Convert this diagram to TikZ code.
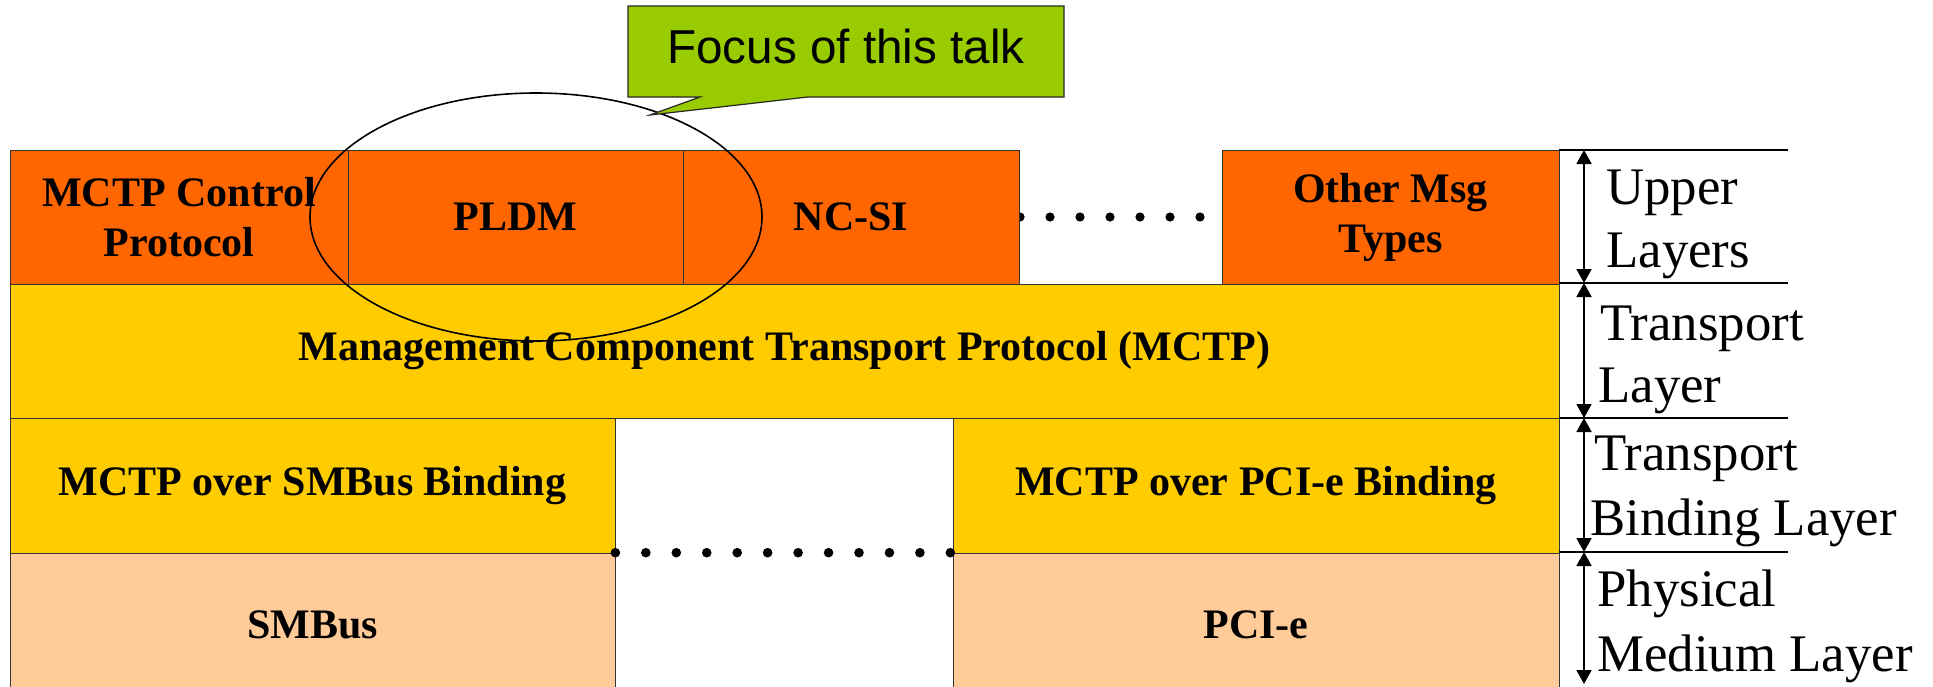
\documentclass[tikz,border=0pt]{standalone}
\usepackage{fontspec}
\setmainfont{Liberation Serif}
\newfontfamily\arialfont{Liberation Sans}
\usetikzlibrary{arrows.meta,shapes.geometric}
\definecolor{orng}{HTML}{FF6600}
\definecolor{ylw}{HTML}{FFCC00}
\definecolor{peach}{HTML}{FFCC99}
\definecolor{lime}{HTML}{99CC00}
\begin{document}
\begin{tikzpicture}[x=0.5pt,y=-0.5pt,
  layerbox/.style={draw=black!80, line width=0.5pt, inner sep=0pt, outer sep=0pt,
    anchor=north west, align=center, font=\bfseries\fontsize{21}{25}\selectfont},
  lbl/.style={anchor=base west, inner sep=0pt, font=\fontsize{26.4}{31}\selectfont},
  dimline/.style={line width=0.9pt},
  dimarrow/.style={line width=0.9pt, {Triangle[width=7.5pt,length=7pt]}-{Triangle[width=7.5pt,length=7pt]}},
  dotmark/.style={fill=black}]
\useasboundingbox (0,0) rectangle (1933,686);

% dots between NC-SI and Other Msg Types (behind boxes)
\foreach \i in {0,...,6} \fill[dotmark] (1020+30*\i,217) circle[radius=2.3pt];

% upper layers
\node[layerbox, fill=orng, minimum width=169pt, minimum height=67pt] (ctrl) at (10,150) {MCTP Control\\Protocol};
\node[layerbox, fill=orng, minimum width=167.5pt, minimum height=67pt] (pldm) at (348,150) {PLDM};
\node[layerbox, fill=orng, minimum width=168pt, minimum height=67pt] (ncsi) at (683,150) {NC-SI};
\node[layerbox, fill=orng, minimum width=168.5pt, minimum height=67pt] (other) at (1222,150) {Other Msg\\Types};

% transport
\node[layerbox, fill=ylw, minimum width=774.5pt, minimum height=67pt] (mctp) at (10,284) {Management Component Transport Protocol (MCTP)};

% bindings
\node[layerbox, fill=ylw, minimum width=302.5pt, minimum height=67.5pt] (smbb) at (10,418) {MCTP over SMBus Binding};
\node[layerbox, fill=ylw, minimum width=303pt, minimum height=67.5pt] (pcib) at (953,418) {MCTP over PCI-e Binding};

% physical
\node[layerbox, fill=peach, minimum width=302.5pt, minimum height=72pt] (smb) at (10,553) {SMBus};
\node[layerbox, fill=peach, minimum width=303pt, minimum height=72pt] (pci) at (953,553) {PCI-e};

% dots between bindings
\foreach \i in {0,...,11} \fill[dotmark] (615.4+30.45*\i,552.7) circle[radius=2.4pt];

% focus ellipse
\node[draw, ellipse, line width=0.8pt, minimum width=226pt, minimum height=124pt, inner sep=0pt] (circ) at (536,217) {};

% callout
\path[draw=black!85, fill=lime, line width=0.6pt] (628,6) -- (1064,6) -- (1064,97) -- (808,97) -- (650,115) -- (700,97) -- (628,97) -- cycle;
\node[font=\arialfont\fontsize{23.8}{28}\selectfont, anchor=base, inner sep=0pt] (focus) at (846,63) {Focus of this talk};

% layer dimension lines
\coordinate (a0) at (1584,150);
\coordinate (a1) at (1584,283);
\coordinate (a2) at (1584,418);
\coordinate (a3) at (1584,552);
\coordinate (a4) at (1584,684);
\coordinate (h0s) at (1559,150); \coordinate (h0e) at (1788,150);
\coordinate (h1s) at (1559,283); \coordinate (h1e) at (1788,283);
\coordinate (h2s) at (1559,418); \coordinate (h2e) at (1788,418);
\coordinate (h3s) at (1559,552); \coordinate (h3e) at (1788,552);
\draw[dimline] (h0s) -- (h0e);
\draw[dimline] (h1s) -- (h1e);
\draw[dimline] (h2s) -- (h2e);
\draw[dimline] (h3s) -- (h3e);
\draw[dimarrow] (a0) -- (a1);
\draw[dimarrow] (a1) -- (a2);
\draw[dimarrow] (a2) -- (a3);
\draw[dimarrow] (a3) -- (a4);

% layer labels
\node[lbl] (u1) at (1606,204) {Upper};
\node[lbl] (u2) at (1606,267) {Layers};
\node[lbl] (t1) at (1600,340) {Transport};
\node[lbl] (t2) at (1598,402) {Layer};
\node[lbl] (b1) at (1594,470) {Transport};
\node[lbl] (b2) at (1590,535) {Binding Layer};
\node[lbl] (p1) at (1597,606) {Physical};
\node[lbl] (p2) at (1597,671) {Medium Layer};
\end{tikzpicture}
\end{document}
